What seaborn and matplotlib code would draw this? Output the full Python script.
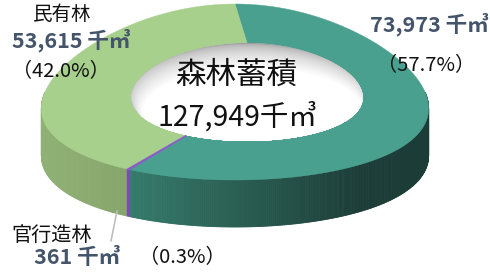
import numpy as np
import matplotlib.pyplot as plt
import seaborn as sns
from matplotlib.patches import Polygon, Ellipse
from matplotlib.colors import to_rgb

# data (clockwise from 12 o'clock)
categories = ['国有林', '官行造林', '民有林']
volumes = [73973, 361, 53615]
shares = [57.7, 0.3, 42.0]
total_volume = 127949

top_colors = ['#4aa08e', '#8a5cc8', '#a8d08d']
side_light = ['#357b6b', '#7a4cb8', '#90b176']
side_dark = ['#1c3d37', '#6a3ca8', '#86a56c']

sns.set_theme(style="white")
plt.rcParams['font.family'] = ['Noto Sans CJK JP', 'DejaVu Sans']

fig = plt.figure(figsize=(4.9, 2.78), dpi=100)
ax = fig.add_axes([0, 0, 1, 1])
ax.set_xlim(0, 490)
ax.set_ylim(278, 0)
ax.axis('off')

# donut geometry in pixels (k = perspective widening toward the viewer)
cx, cy = 235, 92
a, b = 190, 88
hx, ai, bi = 247, 115, 49
depth = 47
k = 0.2


def pt(t, ra, rb, x0=cx):
    s = np.sin(np.radians(t))
    return x0 + ra * np.cos(np.radians(t)) * (1 - k * s * rb / b), cy - rb * s


fr = np.array(volumes) / sum(volumes)
bounds = 90 - 360 * np.concatenate([[0], np.cumsum(fr)])

# side wall (visible lower half only)
for i in range(len(volumes)):
    t0, t1 = bounds[i], bounds[i + 1]
    lo, hi = max(t1, -180), min(t0, 0)
    if lo >= hi:
        continue
    ts = np.linspace(hi, lo, max(int((hi - lo) * 2), 2))
    c0, c1 = np.array(to_rgb(side_light[i])), np.array(to_rgb(side_dark[i]))
    for ta, tb in zip(ts[:-1], ts[1:]):
        xa, ya = pt(ta, a, b)
        xb, yb = pt(tb, a, b)
        if i == 2:
            f = np.clip((xa - 45) / 85, 0, 1)
        else:
            f = np.clip((xa - 130) / 230, 0, 1)
        col = c1 * f + c0 * (1 - f)
        ax.add_patch(Polygon([(xa, ya), (xb, yb), (xb, yb + depth), (xa, ya + depth)],
                             closed=True, fc=col, ec=col, lw=0.6))

# top face
for i in range(len(volumes)):
    ts = np.linspace(bounds[i], bounds[i + 1], 200)
    outer = [pt(t, a, b) for t in ts]
    inner = [pt(t, ai, bi, hx) for t in ts[::-1]]
    ax.add_patch(Polygon(outer + inner, closed=True, fc=top_colors[i],
                         ec=top_colors[i], lw=0.8 if i == 1 else 0.3))

# hole with inner wall shading
hole = Polygon([pt(t, ai, bi, hx) for t in np.linspace(0, 360, 240)],
               closed=True, fc='#9a9a9a', ec='none')
ax.add_patch(hole)
n = 30
for j in range(n):
    f = (j + 1) / n
    g = 0.62 + 0.38 * f ** 0.5
    e = Ellipse((hx + 6 * f, cy + 20 * f), 2 * ai * (1.04 - 0.08 * f),
                2 * bi * (1.0 - 0.1 * f), fc=(g, g, g), ec='none')
    ax.add_patch(e)
    e.set_clip_path(hole)

num_col = '#44546a'
txt_col = '#111111'

# labels
ax.text(62, 15, categories[2], fontsize=14, ha='center', va='center', color=txt_col)
ax.text(12, 40, f"{volumes[2]:,} 千㎥", fontsize=15.5, fontweight='bold',
        ha='left', va='center', color=num_col)
ax.text(61, 72, f"（{shares[2]:.1f}%）", fontsize=14.5, ha='center', va='center', color=txt_col)

ax.text(489, 24, f"{volumes[0]:,} 千㎥", fontsize=15.5, fontweight='bold',
        ha='right', va='center', color=num_col)
ax.text(426, 66, f"（{shares[0]:.1f}%）", fontsize=14.5, ha='center', va='center', color=txt_col)

ax.text(236, 75, "森林蓄積", fontsize=22, ha='center', va='center', color=txt_col)
ax.text(237, 117, f"{total_volume:,}千㎥", fontsize=20.5, ha='center', va='center', color=txt_col)

ax.plot([117, 111], [211, 241], color='#bfbfbf', lw=1.2)
ax.text(52, 236, categories[1], fontsize=14.5, ha='center', va='center', color=txt_col)
ax.text(34, 258, f"{volumes[1]:,} 千㎥", fontsize=15.5, fontweight='bold',
        ha='left', va='center', color=num_col)
ax.text(182, 258, f"（{shares[1]:.1f}%）", fontsize=14.5, ha='center', va='center', color=txt_col)

fig.savefig('out.png', dpi=100)
